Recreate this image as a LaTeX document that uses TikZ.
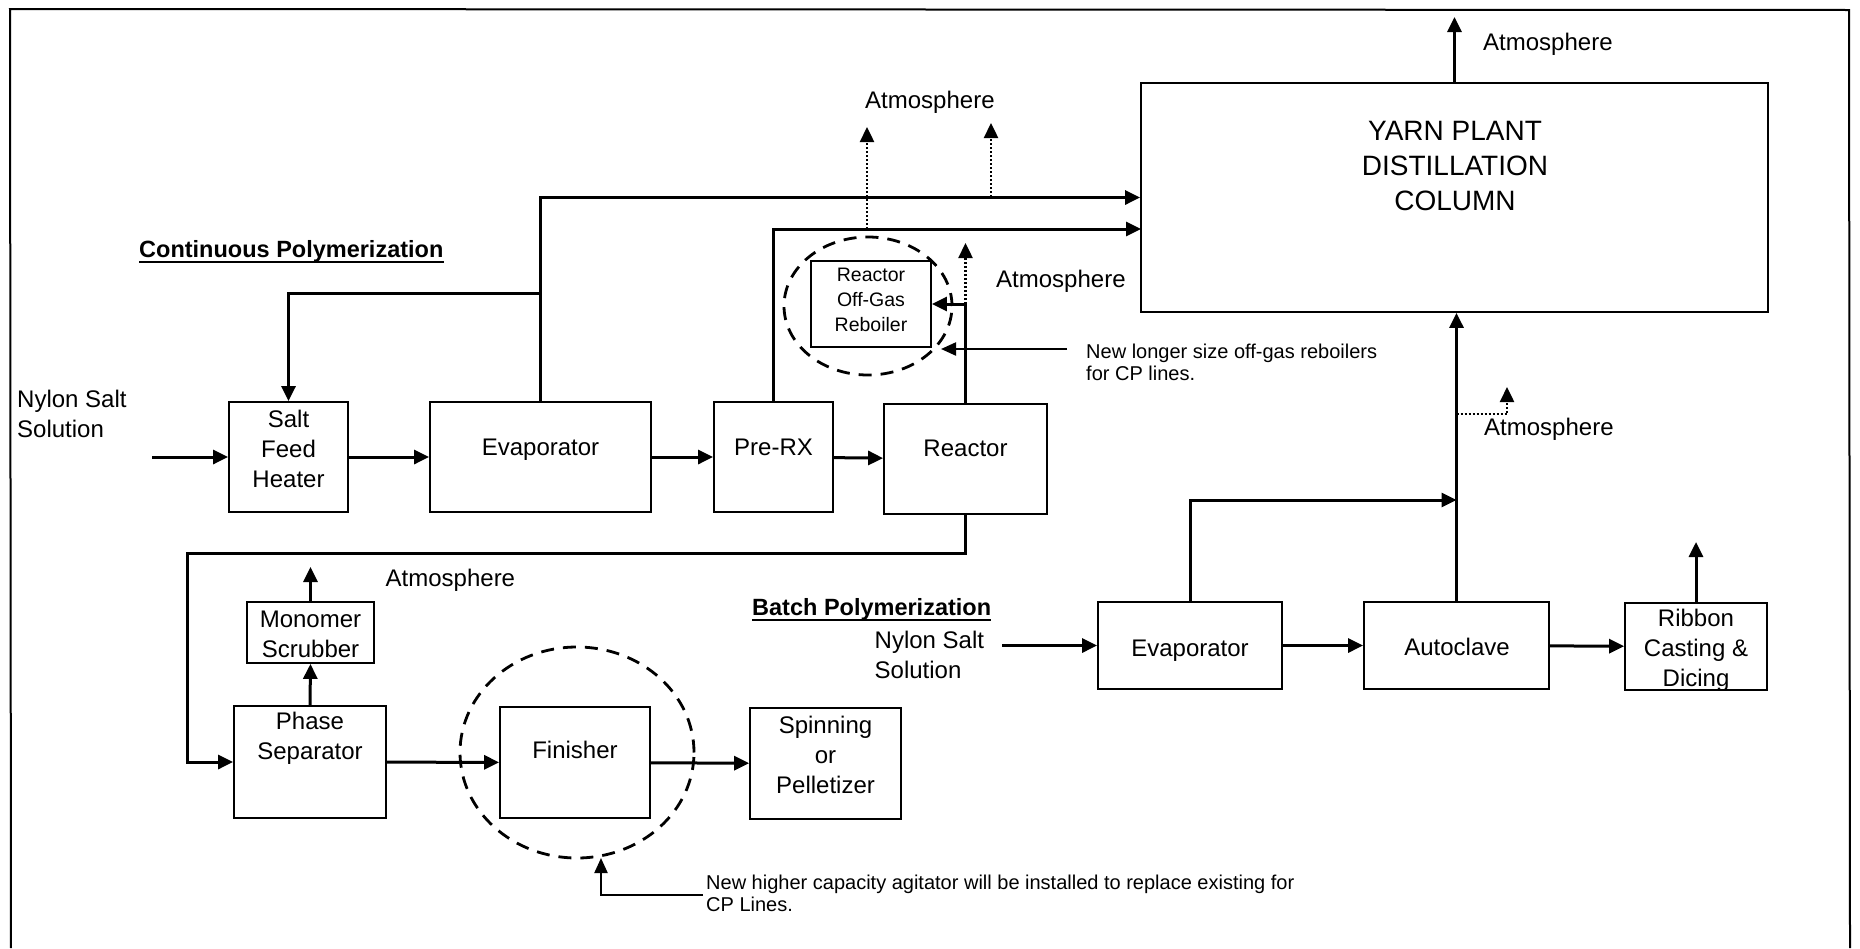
\documentclass[tikz,border=0pt]{standalone}
\usepackage{fontspec}
\setmainfont{Liberation Sans}
\usetikzlibrary{arrows.meta,shapes.geometric}

\newcommand\fsMain{\fontsize{24}{30}\selectfont}
\newcommand\fsSmall{\fontsize{19.5}{25}\selectfont}
\newcommand\fsBig{\fontsize{28}{35}\selectfont}
\newcommand\fsNote{\fontsize{20}{22.5}\selectfont}
\newcommand\fsHead{\fontsize{23.5}{28}\selectfont\bfseries}

\begin{document}
\begin{tikzpicture}[x=1pt,y=-1pt,
  box/.style={draw, line width=1.8pt, inner sep=0pt},
  txt/.style={inner sep=0pt, align=center, font=\fsMain},
  flow/.style={line width=3pt, -{Triangle[length=15pt,width=14pt]}},
  vent/.style={line width=2.4pt, dash pattern=on 2pt off 2pt, -{Triangle[length=15pt,width=14pt]}},
  ring/.style={draw, ellipse, line width=2.8pt, dash pattern=on 13pt off 9pt, inner sep=0pt},
  note/.style={line width=2.2pt, -{Triangle[length=15pt,width=13pt]}},
  frame/.style={line width=2pt},
  ulin/.style={line width=2pt}
]
\useasboundingbox (0,0) rectangle (1860,948);

% outer frame (open at the bottom)
\draw[frame] (11,948) -- (10,9) -- (1849,10) -- (1850,948);

% ---------- continuous polymerization ----------
\node[box, minimum width=119pt, minimum height=110pt] (salt) at (288.5,457) {};
\node[box, minimum width=221pt, minimum height=110pt] (evap) at (540.5,457) {};
\node[box, minimum width=119pt, minimum height=110pt] (prerx) at (773.5,457) {};
\node[box, minimum width=163pt, minimum height=110pt] (reactor) at (965.5,459) {};
\node[box, minimum width=120pt, minimum height=86pt] (reboiler) at (871,304) {};
\node[box, minimum width=627pt, minimum height=229pt] (yarn) at (1454.5,197.5) {};
\node[box, minimum width=152pt, minimum height=112pt] (psep) at (310,762) {};
\node[box, minimum width=127pt, minimum height=61pt] (scrub) at (310.5,632.5) {};
\node[box, minimum width=150pt, minimum height=111pt] (finisher) at (575,762.5) {};
\node[box, minimum width=151pt, minimum height=111pt] (spin) at (825.5,763.5) {};

% ---------- batch polymerization ----------
\node[box, minimum width=184pt, minimum height=87pt] (bevap) at (1190,645.5) {};
\node[box, minimum width=185pt, minimum height=87pt] (autoclave) at (1456.5,645.5) {};
\node[box, minimum width=142pt, minimum height=87pt] (ribbon) at (1696,646.5) {};

% box captions
\node[txt] (salt-t) at (288.5,449) {Salt\\Feed\\Heater};
\node[txt, anchor=base] (evap-t) at (540.5,455) {Evaporator};
\node[txt, anchor=base] (prerx-t) at (773.5,455) {Pre-RX};
\node[txt, anchor=base] (reactor-t) at (965.5,456) {Reactor};
\node[txt, font=\fsSmall] (reboiler-t) at (871,300) {Reactor\\Off-Gas\\Reboiler};
\node[txt, font=\fsBig] (yarn-t) at (1455,166) {YARN PLANT\\DISTILLATION\\COLUMN};
\node[txt] (psep-t) at (310,738.5) {Phase\\Separator};
\node[txt] (scrub-t) at (310.5,634) {Monomer\\Scrubber};
\node[txt, anchor=base] (finisher-t) at (575,758) {Finisher};
\node[txt] (spin-t) at (825.5,755) {Spinning\\or\\Pelletizer};
\node[txt, anchor=base] (bevap-t) at (1190,656) {Evaporator};
\node[txt, anchor=base] (autoclave-t) at (1457,655) {Autoclave};
\node[txt] (ribbon-t) at (1696,650) {Ribbon\\Casting \&\\Dicing};

% headings
\node[txt, font=\fsHead, anchor=base west] (cphead) at (139,257) {Continuous Polymerization};
\draw[ulin] ([yshift=-4.5pt]cphead.base west) -- ([yshift=-4.5pt]cphead.base east);
\node[txt, font=\fsHead, anchor=base west] (bphead) at (752,615) {Batch Polymerization};
\draw[ulin] ([yshift=-4.5pt]bphead.base west) -- ([yshift=-4.5pt]bphead.base east);

% feed labels
\node[txt, anchor=west, align=left] (cpfeed) at (17,414) {Nylon Salt\\Solution};
\node[txt, anchor=west, align=left] (bpfeed) at (874.5,655) {Nylon Salt\\Solution};

% vent labels
\node[txt, anchor=base west] (atm1) at (865,108) {Atmosphere};
\node[txt, anchor=base west] (atm2) at (996,287) {Atmosphere};
\node[txt, anchor=base west] (atm3) at (1483,50) {Atmosphere};
\node[txt, anchor=base west] (atm4) at (1484,435) {Atmosphere};
\node[txt, anchor=base west] (atm5) at (385.5,586) {Atmosphere};

% notes
\node[txt, font=\fsNote, anchor=west, align=left] (note1) at (1086,362.5) {New longer size off-gas reboilers\\for CP lines.};
\node[txt, font=\fsNote, anchor=west, align=left] (note2) at (706,893.5) {New higher capacity agitator will be installed to replace existing for\\CP Lines.};

% highlight rings
\node[ring, minimum width=168pt, minimum height=138pt] (rebring) at (868,306) {};
\node[ring, minimum width=234pt, minimum height=211pt] (finring) at (577,752.5) {};

% connection points
\coordinate (cpin) at (152,457);
\coordinate (evsplit) at (540.5,293);
\coordinate (yin2) at (1141,229);
\coordinate (rxturn) at (187,553);
\coordinate (scout) at (310.5,567);
\coordinate (bin) at (1002,645.5);
\coordinate (bjoin) at (1456.5,500);
\coordinate (rbout) at (1696,542);
\coordinate (yout) at (1454.5,17);
\coordinate (v1a) at (867,229);   \coordinate (v1b) at (867,127);
\coordinate (v2a) at (991,197);   \coordinate (v2b) at (991,123);
\coordinate (v3a) at (965.5,304); \coordinate (v3b) at (965.5,243);
\coordinate (v4a) at (1456.5,414); \coordinate (v4b) at (1507,387);
\coordinate (n1a) at (1067,349);  \coordinate (n1b) at (941,349);
\coordinate (n2a) at (703,895);   \coordinate (n2b) at (601,858);

% continuous line flows
\draw[flow] (cpin) -- (salt);
\draw[flow] (salt) -- (evap);
\draw[flow] (evap) -- (prerx);
\draw[flow] (prerx) -- (reactor);
\draw[flow] (evap.north) |- (yarn.west);
\draw[flow] (evsplit) -| (salt.north);
\draw[flow] (prerx.north) |- (yin2);
\draw[flow] (reactor.north) |- (reboiler.east);
\draw[flow] (reactor.south) |- (rxturn) |- (psep.west);
\draw[flow] (psep.north) -- (scrub.south);
\draw[flow] (scrub.north) -- (scout);
\draw[flow] (psep) -- (finisher);
\draw[flow] (finisher) -- (spin);
\draw[flow] (yarn.north) -- (yout);

% batch line flows
\draw[flow] (bin) -- (bevap);
\draw[flow] (bevap) -- (autoclave);
\draw[flow] (autoclave) -- (ribbon);
\draw[flow] (bevap.north) |- (bjoin);
\draw[flow] (autoclave.north) -- (autoclave.north |- yarn.south);
\draw[flow] (ribbon.north) -- (rbout);

% vents to atmosphere
\draw[vent] (v1a) -- (v1b);
\draw[vent] (v2a) -- (v2b);
\draw[vent] (v3a) -- (v3b);
\draw[vent] (v4a) -| (v4b);

% note pointers
\draw[note] (n1a) -- (n1b);
\draw[note] (n2a) -| (n2b);
\end{tikzpicture}
\end{document}
